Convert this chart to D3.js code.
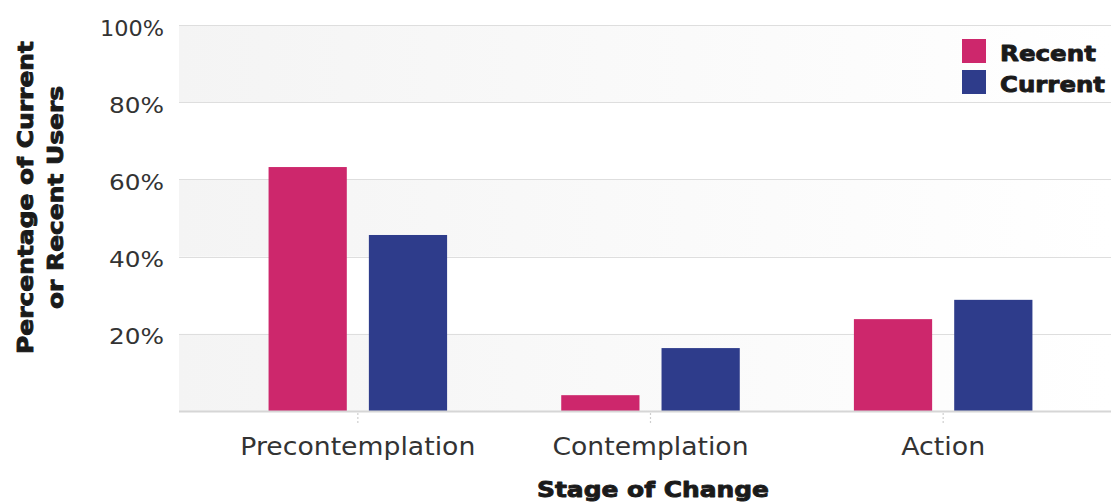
<!DOCTYPE html>
<html><head><meta charset="utf-8">
<script src="https://cdn.jsdelivr.net/npm/d3@7"></script>
<style>html,body{margin:0;padding:0;background:#fff;}svg{display:block;}</style>
</head><body>
<script>
const categories = ["Precontemplation", "Contemplation", "Action"];
const seriesNames = ["Recent", "Current"];
const recentValues = [63.2, 4.1, 23.8];
const currentValues = [45.6, 16.3, 28.8];
const yTicks = [20, 40, 60, 80, 100];
const yTickLabels = ["20%", "40%", "60%", "80%", "100%"];
const colors = ["#CD276C", "#2E3C8B"];

const W = 1111, H = 502;
const plotL = 179, plotR = 1111, plotT = 25, plotB = 411;
const svg = d3.select("body").append("svg").attr("width", W).attr("height", H);

const lightFont = "'DejaVu Sans', 'Open Sans', sans-serif";
const boldFont = "'DejaVu Sans', 'Inter', sans-serif";

function fit(sel, widthFn) {
  sel.each(function (d, i) {
    const t = widthFn(d, i);
    if (t) d3.select(this).attr("textLength", t).attr("lengthAdjust", "spacingAndGlyphs");
  });
}
function heavy(sel) {
  return sel.attr("font-family", boldFont).attr("font-weight", 700)
    .attr("fill", "#1a1a1a").attr("stroke", "#1a1a1a").attr("stroke-width", 0.9)
    .attr("stroke-linejoin", "round");
}

const y = d3.scaleLinear().domain([0, 100]).range([plotB, plotT]);
const x0 = d3.scaleBand().domain(categories).range([211.5, 1089.5]).paddingInner(0).paddingOuter(0);
const x1 = d3.scaleBand().domain(seriesNames).range([0.195 * x0.bandwidth(), 0.805 * x0.bandwidth()]).paddingInner(0.22).paddingOuter(0);

const defs = svg.append("defs");
const grad = defs.append("linearGradient").attr("id", "bandGrad").attr("x1", "0").attr("x2", "1").attr("y1", "0").attr("y2", "0");
grad.append("stop").attr("offset", "0").attr("stop-color", "#f4f4f4");
grad.append("stop").attr("offset", "1").attr("stop-color", "#ffffff");

// alternating bands
const bandEdges = [0, 20, 40, 60, 80, 100];
for (let i = 0; i < bandEdges.length - 1; i++) {
  if (i % 2 === 0) {
    svg.append("rect").attr("x", plotL).attr("width", plotR - plotL)
      .attr("y", y(bandEdges[i + 1])).attr("height", y(bandEdges[i]) - y(bandEdges[i + 1]))
      .attr("fill", "url(#bandGrad)");
  }
}

// gridlines
svg.append("g").selectAll("line").data(yTicks).join("line")
  .attr("x1", plotL).attr("x2", plotR)
  .attr("y1", d => Math.round(y(d)) + 0.5).attr("y2", d => Math.round(y(d)) + 0.5)
  .attr("stroke", "#dedede").attr("stroke-width", 1);

// y tick labels
const yl = svg.append("g").selectAll("text").data(yTicks).join("text")
  .attr("x", 164).attr("y", d => y(d) + 10.5)
  .attr("text-anchor", "end")
  .attr("font-family", lightFont).attr("font-weight", 400)
  .attr("font-size", 21).attr("fill", "#333")
  .text((d, i) => yTickLabels[i]);
fit(yl, (d, i) => yTickLabels[i].length === 4 ? 64 : 55);

// bars
const data = categories.map((c, i) => ({ cat: c, vals: [recentValues[i], currentValues[i]] }));
const gCat = svg.append("g").selectAll("g").data(data).join("g")
  .attr("transform", d => `translate(${x0(d.cat)},0)`);
gCat.selectAll("rect").data(d => d.vals.map((v, j) => ({ s: seriesNames[j], v, j }))).join("rect")
  .attr("x", d => x1(d.s)).attr("width", x1.bandwidth())
  .attr("y", d => y(d.v)).attr("height", d => plotB - y(d.v))
  .attr("fill", d => colors[d.j]);

// baseline
svg.append("line").attr("x1", plotL).attr("x2", plotR).attr("y1", plotB + 0.5).attr("y2", plotB + 0.5)
  .attr("stroke", "#d6d6d6").attr("stroke-width", 2);

// x ticks (dotted)
svg.append("g").selectAll("line").data(categories).join("line")
  .attr("x1", d => x0(d) + x0.bandwidth() / 2).attr("x2", d => x0(d) + x0.bandwidth() / 2)
  .attr("y1", plotB + 2).attr("y2", plotB + 13)
  .attr("stroke", "#cfcfcf").attr("stroke-width", 1.2).attr("stroke-dasharray", "2,2");

// x labels
const catWidths = [235, 196, 84];
const xl = svg.append("g").selectAll("text").data(categories).join("text")
  .attr("x", d => x0(d) + x0.bandwidth() / 2).attr("y", 454.5)
  .attr("text-anchor", "middle")
  .attr("font-family", lightFont).attr("font-weight", 400)
  .attr("font-size", 24).attr("fill", "#333")
  .text(d => d);
fit(xl, (d, i) => catWidths[i]);

// x title
const xt = heavy(svg.append("text").attr("x", 653).attr("y", 496.5).attr("text-anchor", "middle")
  .attr("font-size", 22)).text("Stage of Change");
fit(xt, () => 232);

// y title
const yt = heavy(svg.append("text").attr("transform", "translate(0,197.5) rotate(-90)")
  .attr("text-anchor", "middle").attr("font-size", 22));
yt.append("tspan").attr("x", 0).attr("y", 33).attr("textLength", 313).attr("lengthAdjust", "spacingAndGlyphs").text("Percentage of Current");
yt.append("tspan").attr("x", 0).attr("y", 63).attr("textLength", 223).attr("lengthAdjust", "spacingAndGlyphs").text("or Recent Users");

// legend
const legWidths = [96, 105];
const leg = svg.append("g");
seriesNames.forEach((s, i) => {
  leg.append("rect").attr("x", 962).attr("y", 39 + i * 31).attr("width", 24).attr("height", 24).attr("fill", colors[i]);
  heavy(leg.append("text").attr("x", 1000).attr("y", 60.5 + i * 31).attr("font-size", 22))
    .attr("textLength", legWidths[i]).attr("lengthAdjust", "spacingAndGlyphs").text(s);
});
</script>
</body></html>
